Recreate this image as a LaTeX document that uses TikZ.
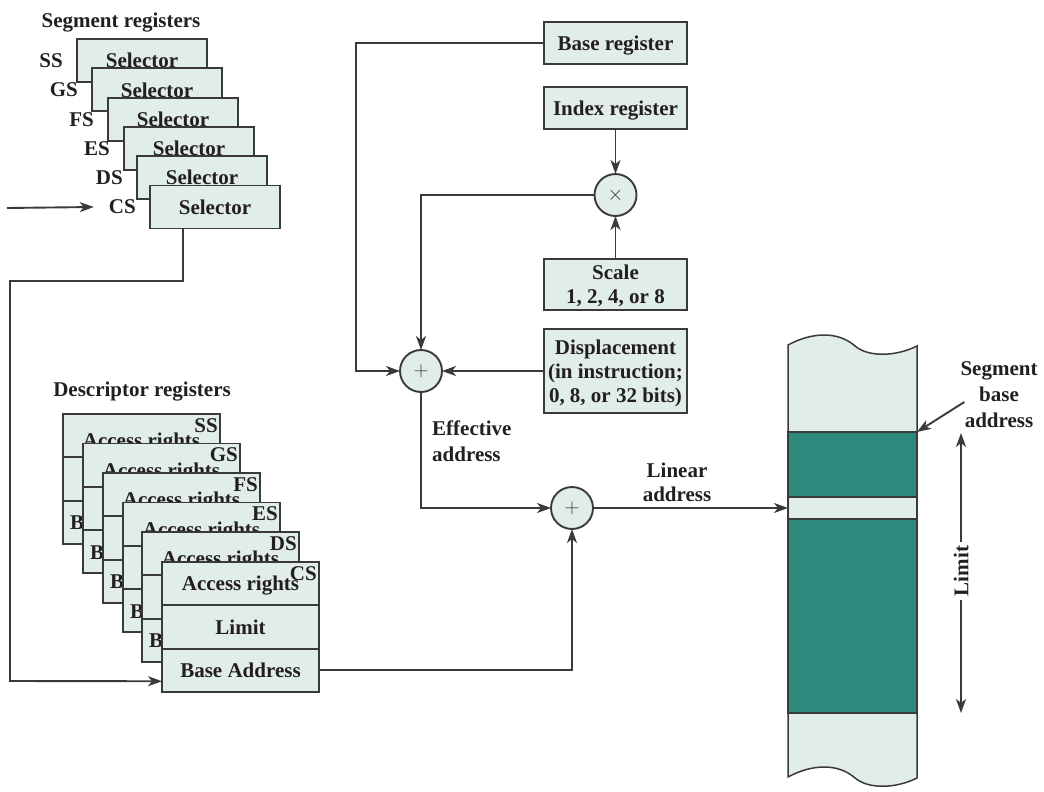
\documentclass[tikz,border=0pt]{standalone}
\usepackage{fontspec}
\setmainfont{Liberation Serif}
\usetikzlibrary{arrows.meta}
\definecolor{lightf}{HTML}{E1EDEA}
\definecolor{tealc}{HTML}{2C897B}
\definecolor{linec}{HTML}{3A3A3A}
\definecolor{txt}{HTML}{231F20}
\begin{document}
\begin{tikzpicture}[x=1pt,y=-1pt,
  every node/.style={font=\fontsize{21}{24}\selectfont\bfseries, text=txt},
  box/.style={draw=linec, fill=lightf, line width=1.9pt, inner sep=0pt, outer sep=0pt, text depth=0pt},
  selbox/.style={box, minimum width=130pt, minimum height=43pt, anchor=north west},
  rowbox/.style={box, minimum width=157pt, minimum height=43.3pt, anchor=north west},
  regbox/.style={box, minimum width=143pt, align=center},
  lbl/.style={inner sep=0pt},
  slbl/.style={inner sep=0pt, text depth=0pt},
  conn/.style={draw=linec, line width=1.9pt},
  arr/.style={conn, -{Stealth[length=14pt,width=10pt,inset=4pt]}},
  op/.style={circle, draw=linec, fill=lightf, line width=1.9pt, minimum size=42pt, inner sep=0pt, outer sep=0pt, text=linec, font=\fontsize{22}{24}\selectfont},
]
\useasboundingbox (0,0) rectangle (1044,792);

% ---------- Segment registers ----------
\node[slbl] (segT) at (121,20) {Segment registers};
\foreach \n/\x/\y in {SS/77/39, GS/92/68.3, FS/108/97.6, ES/124/126.9, DS/137/156.2, CS/150/185.5} {
  \node[selbox] (sel\n) at (\x,\y) {Selector};
  \node[slbl, anchor=east] (lab\n) at ([xshift=-14pt]sel\n.west) {\n};
}
\coordinate (inS) at (7,208);
\draw[arr] (inS) -- ([xshift=-15pt]labCS.west);

% ---------- Descriptor registers ----------
\node[slbl] (descT) at (142,389) {Descriptor registers};
\foreach \n/\x/\y in {SS/63/414, GS/83/443.5, FS/103/473, ES/123/502.5, DS/142/532} {
  \node[rowbox] (ar\n) at (\x,\y) {};
  \node[slbl] (at\n) at ([yshift=-5pt]ar\n.center) {Access rights};
  \node[rowbox, anchor=north] (li\n) at (ar\n.south) {Limit};
  \node[rowbox, anchor=north] (ba\n) at (li\n.south) {};
  \node[slbl, anchor=west] (bt\n) at ([xshift=7pt]ba\n.west) {Base Address};
  \node[lbl, anchor=base east] (tag\n) at ([xshift=-2pt,yshift=-18pt]ar\n.north east) {\n};
}
\node[rowbox] (arCS) at (162,562) {Access rights};
\node[rowbox, anchor=north] (liCS) at (arCS.south) {Limit};
\node[rowbox, anchor=north] (baCS) at (liCS.south) {Base Address};
\node[lbl, anchor=base east] (tagCS) at ([xshift=-2pt,yshift=-18pt]arCS.north east) {CS};

\draw[arr] ([xshift=-32pt]selCS.south) -- ++(0,52.5) -| (10,681) -- ([yshift=-11pt]baCS.west);

% ---------- Address computation ----------
\node[regbox, minimum height=42pt] (basereg) at (615.5,43) {Base register};
\node[regbox, minimum height=42pt] (idxreg) at (615.5,108) {Index register};
\node[op] (times) at (615.5,195) {$\times$};
\node[regbox, minimum height=51pt] (scale) at (615.5,284.5) {Scale\\1, 2, 4, or 8};
\node[regbox, minimum height=84pt] (disp) at (615.5,371) {Displacement\\(in instruction;\\0, 8, or 32 bits)};
\node[op] (pl1) at (421,371) {$+$};
\node[op] (pl2) at (572,508) {$+$};

\draw[arr] (idxreg) -- (times);
\draw[arr] (scale) -- (times);
\draw[arr] (basereg.west) -- (356,43) |- (pl1.west);
\draw[arr] (times.west) -| (pl1.north);
\draw[arr] (disp.west) -- (pl1.east);
\draw[arr] (pl1.south) |- (pl2.west);
\draw[arr] (baCS.east) -| (pl2.south);

\node[lbl, align=left, anchor=west, font=\fontsize{21}{26}\selectfont\bfseries] (eff) at (432,441) {Effective\\address};
\node[lbl, align=center] (lin) at (677,482) {Linear\\address};

% ---------- Memory ----------
\fill[lightf] (788,432) -- (788,345) .. controls (812,332) and (838,331) .. (855,346) .. controls (868,357) and (895,357) .. (917,346) -- (917,432) -- cycle;
\draw[conn, line width=1.5pt] (788,432) -- (788,345) .. controls (812,332) and (838,331) .. (855,346) .. controls (868,357) and (895,357) .. (917,346) -- (917,432);
\fill[lightf] (788,713) -- (788,777) .. controls (812,764) and (838,763) .. (855,778) .. controls (868,789) and (895,789) .. (917,778) -- (917,713) -- cycle;
\draw[conn, line width=1.5pt] (788,713) -- (788,777) .. controls (812,764) and (838,763) .. (855,778) .. controls (868,789) and (895,789) .. (917,778) -- (917,713);
\node[box, fill=tealc, minimum width=129pt, minimum height=65pt, anchor=north west] (dk1) at (788,432) {};
\node[box, minimum width=129pt, minimum height=22pt, anchor=north west] (band) at (788,497) {};
\node[box, fill=tealc, minimum width=129pt, minimum height=194pt, anchor=north west] (dk2) at (788,519) {};

\draw[arr] (pl2.east) -- (band.west);

\node[lbl, align=center, font=\fontsize{21}{26}\selectfont\bfseries] (sba) at (999,395) {Segment\\base\\address};
\draw[arr] ([shift={(4pt,-7pt)}]sba.west) -- (dk1.north east);

\node[slbl, rotate=90, inner sep=4pt] (limL) at (961,571) {Limit};
\coordinate (limT) at (961,433);
\coordinate (limB) at (961,713);
\draw[arr] (limL.east) -- (limT);
\draw[arr] (limL.west) -- (limB);
\end{tikzpicture}
\end{document}
